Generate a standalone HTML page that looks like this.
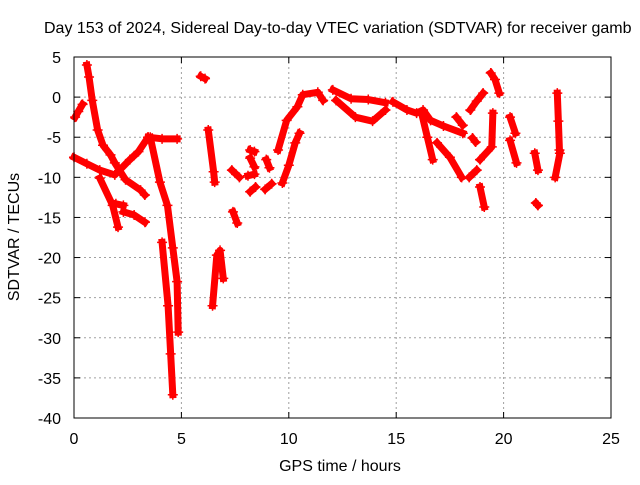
<!DOCTYPE html>
<html><head><meta charset="utf-8"><style>
body{margin:0;background:#fff}
svg text{font-family:"Liberation Sans",sans-serif;font-size:16px;fill:#000}
</style></head><body>
<svg id="chart" width="640" height="480" viewBox="0 0 640 480" xmlns="http://www.w3.org/2000/svg">
<rect width="640" height="480" fill="#fff"/>
<text x="44" y="33">Day 153 of 2024, Sidereal Day-to-day VTEC variation (SDTVAR) for receiver gamb</text>
<g id="grid"></g>
<g id="series"></g>
<g id="axes"></g>
<text x="340" y="471" text-anchor="middle">GPS time / hours</text>
<text transform="translate(19,237) rotate(-90)" text-anchor="middle">SDTVAR / TECUs</text>
</svg>
<script>
const xTicks=[0,5,10,15,20,25];
const yTicks=[5,0,-5,-10,-15,-20,-25,-30,-35,-40];
const trackA=[[0.05,-2.5],[0.2,-1.8],[0.4,-0.9]];
const trackB=[[0.6,4],[0.7,2.5],[0.85,-0.4],[1.1,-4.1],[1.35,-6],[1.7,-7.2],[1.9,-8.2],[2.4,-10.3],[3.1,-11.6],[3.3,-12.2]];
const trackC=[[0,-7.5],[0.6,-8.3],[1.2,-9.1],[1.9,-9.7],[2.6,-7.8],[3.0,-6.8],[3.45,-5]];
const trackD=[[1.2,-10.1],[1.8,-13.5],[2.05,-16.2]];
const trackE=[[1.95,-13.3],[2.3,-13.5]];
const trackF=[[2.3,-14.3],[2.8,-14.7],[3.3,-15.6]];
const trackG=[[3.45,-5],[4.1,-5.2],[4.8,-5.2]];
const trackH=[[3.55,-5],[4.0,-10.6],[4.35,-13.5],[4.6,-18.8],[4.8,-23],[4.85,-29.3]];
const trackI=[[4.1,-18.1],[4.38,-26],[4.5,-32],[4.6,-37.1]];
const trackJ=[[5.9,2.6],[6.1,2.3]];
const trackK=[[6.25,-4.1],[6.5,-9.3],[6.55,-10.6]];
const trackL=[[6.45,-26],[6.65,-19.7],[6.8,-19.1],[6.95,-22.6]];
const trackM=[[7.35,-9.1],[7.7,-10]];
const trackN=[[7.4,-14.3],[7.6,-15.7]];
const trackO=[[8.2,-6.6],[8.4,-6.8]];
const trackP=[[8.2,-7.6],[8.4,-8.7]];
const trackQ=[[8.1,-9.8],[8.4,-9.6]];
const trackR=[[8.2,-11.8],[8.45,-11.2]];
const trackS=[[8.95,-7.8],[9.1,-8.8]];
const trackT=[[8.9,-11.5],[9.2,-10.8]];
const trackU=[[9.5,-6.6],[9.9,-2.9],[10.4,-1.2],[10.65,0.3],[11.35,0.6],[11.6,-0.4]];
const trackV=[[9.7,-10.7],[10.0,-8.5],[10.3,-5.7],[10.5,-4.5]];
const trackW=[[12.05,0.9],[12.9,-0.2],[13.7,-0.3],[14.5,-0.7]];
const trackX=[[12.2,-0.4],[13.1,-2.5],[13.9,-3],[14.5,-1.6]];
const trackY=[[14.85,-0.6],[15.5,-1.6],[15.95,-2],[16.25,-1.6],[16.6,-2.9],[17.2,-3.6],[18.1,-4.5]];
const trackZ=[[16.2,-2.2],[16.45,-5],[16.7,-7.8]];
const track1=[[16.9,-5.7],[17.5,-7.5],[18.05,-10]];
const track2=[[17.8,-2.5],[18.1,-3.5]];
const track3=[[18.4,-10],[18.75,-9.1]];
const track4=[[18.9,-11.2],[19.1,-13.7]];
const track5=[[18.45,-1.6],[18.75,-0.5],[19.05,0.5]];
const track6=[[19.4,3],[19.6,2.2],[19.8,0.5]];
const track7=[[19.5,-2],[19.45,-6.2],[18.9,-7.8]];
const track8=[[18.55,-5.1],[18.7,-5.6]];
const track9=[[20.3,-2.5],[20.55,-4.5]];
const track10=[[20.3,-5.4],[20.6,-8.2]];
const track11=[[21.45,-7],[21.6,-9.1]];
const track12=[[21.5,-13.2],[21.6,-13.5]];
const track13=[[22.5,0.5],[22.55,-3],[22.6,-6.6]];
const track14=[[22.62,-7],[22.4,-10]];
const tracks=[trackA,trackB,trackC,trackD,trackE,trackF,trackG,trackH,trackI,trackJ,trackK,trackL,trackM,trackN,trackO,trackP,trackQ,trackR,trackS,trackT,trackU,trackV,trackW,trackX,trackY,trackZ,track1,track2,track3,track4,track5,track6,track7,track8,track9,track10,track11,track12,track13,track14];

const L=74,R=611,T=57,B=418,x0=0,x1=25,y0=-40,y1=5;
const sx=v=>L+(v-x0)/(x1-x0)*(R-L);
const sy=v=>B-(v-y0)/(y1-y0)*(B-T);
const NS="http://www.w3.org/2000/svg";
function mk(tag,at,parent){const e=document.createElementNS(NS,tag);for(const k in at)e.setAttribute(k,at[k]);parent.appendChild(e);return e;}
const grid=document.getElementById('grid'),axes=document.getElementById('axes'),series=document.getElementById('series');
xTicks.forEach(t=>{
  const x=sx(t);
  if(t>x0&&t<x1){const g=mk('line',{x1:x,x2:x,y1:T,y2:B,stroke:'#a0a0a0','stroke-dasharray':'2,3'},grid);
  
  }
  mk('line',{x1:x,x2:x,y1:B,y2:B-6,stroke:'#000'},axes);
  mk('line',{x1:x,x2:x,y1:T,y2:T+6,stroke:'#000'},axes);
  const tx=mk('text',{x:x,y:444,'text-anchor':'middle'},axes);tx.textContent=t;
  
  
});
yTicks.forEach(t=>{
  const y=sy(t);
  if(t>y0&&t<y1){const g=mk('line',{x1:L,x2:R,y1:y,y2:y,stroke:'#a0a0a0','stroke-dasharray':'2,3'},grid);
  
  }
  mk('line',{x1:L,x2:L+6,y1:y,y2:y,stroke:'#000'},axes);
  mk('line',{x1:R,x2:R-6,y1:y,y2:y,stroke:'#000'},axes);
  const tx=mk('text',{x:61,y:y+6,'text-anchor':'end'},axes);tx.textContent=t;
  
  
});
const border=mk('rect',{x:L,y:T,width:R-L,height:B-T,fill:'none',stroke:'#000'},axes);


tracks.forEach(tr=>{
  const pts=tr.map(p=>sx(p[0])+','+sy(p[1])).join(' ');
  const pl=mk('polyline',{points:pts,fill:'none',stroke:'#f00','stroke-width':7,'stroke-linejoin':'round','stroke-linecap':'square'},series);
  
  
  tr.forEach(p=>{
    const x=sx(p[0]),y=sy(p[1]);
    const m=mk('path',{d:`M${x-5},${y}h10M${x},${y-5}v10`,stroke:'#f00','stroke-width':1.5},series);
    
    
  });
});
</script>
</body></html>
